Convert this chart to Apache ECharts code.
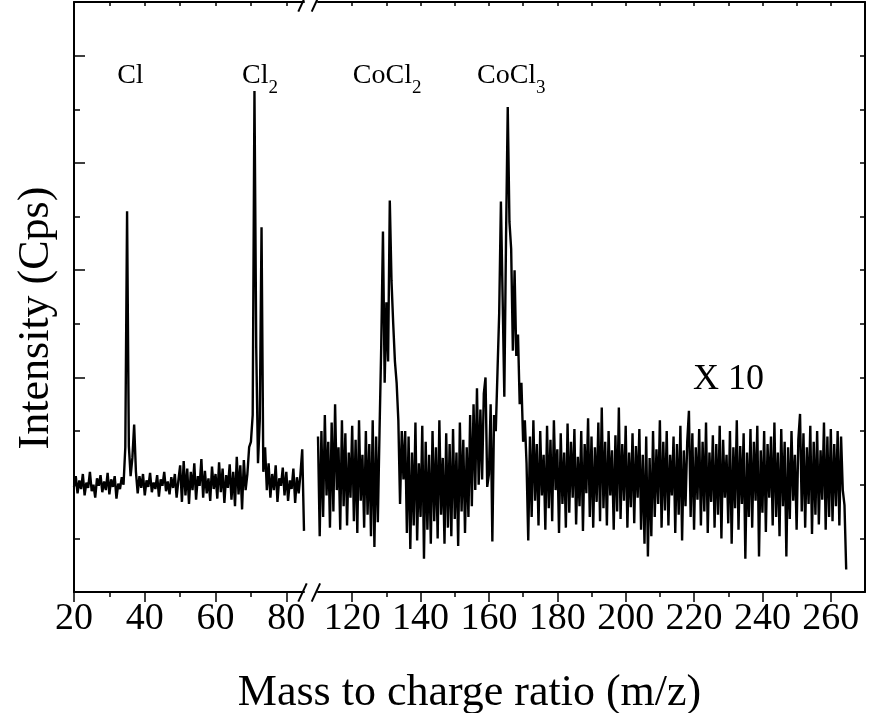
<!DOCTYPE html>
<html>
<head>
<meta charset="utf-8">
<script src="https://cdn.jsdelivr.net/npm/echarts@6/dist/echarts.min.js"></script>
<style>
html,body{margin:0;padding:0;background:#fff;}
#chart{width:869px;height:713px;}
</style>
</head>
<body>
<div id="chart"></div>
<script>
// ---------------- data ----------------
const sampleStep = 0.5;             // m/z sampling interval of the traces
const leftStartMz = 20;             // first m/z of the left (unscaled) segment
const leftIntensity = [
  98, 108, 92, 104, 96, 110, 90, 102, 97, 112,
  94, 100, 88, 106, 99, 109, 93, 103, 95, 111,
  91, 105, 98, 108, 87, 101, 96, 107, 100, 135,
  355, 136, 108, 125, 156, 112, 92, 108, 97, 110,
  90, 104, 98, 111, 93, 102, 96, 109, 89, 105,
  99, 112, 94, 103, 91, 107, 97, 110, 88, 104,
  118, 84, 122, 90, 115, 82, 112, 95, 120, 86,
  108, 99, 124, 88, 113, 92, 106, 85, 117, 96,
  110, 87, 121, 93, 115, 83, 109, 97, 119, 86,
  112, 80, 126, 91, 118, 77, 123, 95, 110, 135,
  140, 165, 467, 228, 120, 160, 340, 112, 135, 95,
  120, 88, 110, 95, 118, 84, 106, 99, 116, 90,
  112, 85, 104, 96, 115, 83, 107, 92, 110, 133,
  57
];
const rightStartMz = 110;           // first m/z of the right (X 10) segment
const rightIntensity = [
  145, 52, 150, 70, 165, 90, 140, 60, 158, 75,
  175, 95, 135, 58, 160, 80, 148, 62, 130, 88,
  155, 66, 142, 55, 160, 85, 128, 60, 150, 72,
  138, 52, 160, 42, 145, 65, 150, 230, 336, 195,
  270, 215, 365, 290, 250, 215, 195, 160, 82, 150,
  105, 150, 55, 145, 40, 130, 62, 158, 48, 120,
  70, 155, 31, 140, 58, 128, 45, 150, 66, 135,
  50, 160, 72, 125, 45, 148, 60, 138, 52, 152,
  68, 130, 43, 158, 75, 142, 55, 135, 70, 165,
  80, 175, 95, 190, 100, 170, 105, 185, 200, 98,
  110, 175, 47, 165, 150, 205, 260, 364, 275, 182,
  330, 452, 345, 320, 225, 300, 220, 240, 175, 195,
  140, 160, 120, 48, 145, 70, 160, 85, 138, 62,
  150, 90, 128, 58, 155, 78, 142, 66, 160, 95,
  133, 55, 148, 82, 130, 60, 157, 74, 140, 88,
  152, 63, 126, 80, 150, 57, 138, 92, 162, 70,
  145, 60, 135, 84, 158, 66, 172, 78, 140, 62,
  150, 90, 132, 58, 146, 75, 172, 68, 138, 85,
  155, 60, 130, 79, 148, 64, 136, 88, 152, 58,
  128, 45, 145, 33, 125, 52, 150, 70, 133, 82,
  160, 60, 140, 76, 150, 62, 128, 90, 145, 55,
  138, 72, 155, 48, 132, 80, 140, 169, 70, 148,
  58, 135, 86, 152, 62, 140, 75, 158, 55, 130,
  84, 146, 60, 138, 72, 155, 50, 142, 88, 128,
  64, 150, 45, 135, 78, 160, 58, 136, 82, 148,
  31, 130, 70, 152, 60, 140, 85, 155, 33, 132,
  74, 150, 56, 138, 88, 145, 62, 158, 70, 130,
  52, 152, 80, 140, 33, 135, 68, 150, 85, 128,
  58, 142, 166, 75, 148, 60, 135, 82, 155, 54,
  140, 72, 150, 63, 132, 86, 158, 58, 145, 70,
  152, 66, 138, 80, 150, 62, 145, 95, 81, 21
];

// axis ranges and tick labels
const leftRange = [20, 85];
const rightRange = [110, 270];
const yRange = [0, 550];
const leftMajorTicks = [20, 40, 60, 80];
const leftMinorTicks = [30, 50, 70];
const rightMajorTicks = [120, 140, 160, 180, 200, 220, 240, 260];
const rightMinorTicks = [130, 150, 170, 190, 210, 230, 250];
const yMajorTicks = [0, 100, 200, 300, 400, 500];
const yMinorTicks = [50, 150, 250, 350, 450];

// text annotations (data coordinates of the label's left edge / middle)
const peakLabels = [
  {main: 'Cl',   sub: '',  mz: 32.2,  y: 478, seg: 0},
  {main: 'Cl',   sub: '2', mz: 67.5,  y: 478, seg: 0},
  {main: 'CoCl', sub: '2', mz: 120.2, y: 478, seg: 1},
  {main: 'CoCl', sub: '3', mz: 156.5, y: 478, seg: 1}
];
const scaleLabel = {text: 'X 10', mz: 219.7, y: 198};
const xTitle = 'Mass to charge ratio (m/z)';
const yTitle = 'Intensity (Cps)';

// ---------------- layout / style ----------------
const FONT = '"Liberation Serif", "Times New Roman", Times, serif';
const GRIDS = [
  {left: 74, top: 2, width: 230, height: 590},
  {left: 318, top: 2, width: 547, height: 590}
];
const BLACK = '#000';
const TRACE_WIDTH = 2.4;

function toPairs(start, vals) {
  return vals.map((v, i) => [start + i * sampleStep, v]);
}

function bottomMajor(gridIndex, range, ticks) {
  return {
    type: 'value', gridIndex, position: 'bottom', min: range[0], max: range[1],
    axisLine: {show: true, onZero: false, lineStyle: {color: BLACK, width: 2}},
    axisTick: {show: true, inside: false, length: 10, customValues: ticks, lineStyle: {color: BLACK, width: 1.5}},
    axisLabel: {show: true, customValues: ticks, color: BLACK, fontFamily: FONT, fontSize: 38, margin: 8},
    splitLine: {show: false}
  };
}
function bottomMinor(gridIndex, range, ticks) {
  return {
    type: 'value', gridIndex, position: 'bottom', min: range[0], max: range[1],
    axisLine: {show: false, onZero: false},
    axisTick: {show: true, inside: false, length: 5, customValues: ticks, lineStyle: {color: BLACK, width: 1.5}},
    axisLabel: {show: false},
    splitLine: {show: false}
  };
}
function topAxis(gridIndex, range, ticks) {
  return {
    type: 'value', gridIndex, position: 'top', min: range[0], max: range[1],
    axisLine: {show: true, onZero: false, lineStyle: {color: BLACK, width: 2}},
    axisTick: {show: true, inside: true, length: 4, customValues: ticks, lineStyle: {color: BLACK, width: 1.5}},
    axisLabel: {show: false},
    splitLine: {show: false}
  };
}

const chart = echarts.init(document.getElementById('chart'), null, {renderer: 'canvas'});

const option = {
  animation: false,
  backgroundColor: '#fff',
  grid: GRIDS.map(g => Object.assign({containLabel: false}, g)),
  xAxis: [
    bottomMajor(0, leftRange, leftMajorTicks),
    bottomMinor(0, leftRange, leftMinorTicks),
    topAxis(0, leftRange, leftMajorTicks.concat(leftMinorTicks)),
    bottomMajor(1, rightRange, rightMajorTicks),
    bottomMinor(1, rightRange, rightMinorTicks),
    topAxis(1, rightRange, rightMajorTicks.concat(rightMinorTicks))
  ],
  yAxis: [
    {
      type: 'value', gridIndex: 0, position: 'left', min: yRange[0], max: yRange[1],
      axisLine: {show: true, onZero: false, lineStyle: {color: BLACK, width: 2}},
      axisTick: {show: true, inside: true, length: 11, customValues: yMajorTicks, lineStyle: {color: BLACK, width: 1.5}},
      axisLabel: {show: false},
      splitLine: {show: false},
      name: yTitle, nameLocation: 'middle', nameGap: 16,
      nameTextStyle: {color: BLACK, fontFamily: FONT, fontSize: 44, padding: [0, 42, 0, 0]}
    },
    {
      type: 'value', gridIndex: 0, position: 'left', min: yRange[0], max: yRange[1],
      axisLine: {show: false, onZero: false},
      axisTick: {show: true, inside: true, length: 6, customValues: yMinorTicks, lineStyle: {color: BLACK, width: 1.5}},
      axisLabel: {show: false},
      splitLine: {show: false}
    },
    {
      type: 'value', gridIndex: 1, position: 'right', min: yRange[0], max: yRange[1],
      axisLine: {show: true, onZero: false, lineStyle: {color: BLACK, width: 2}},
      axisTick: {show: true, inside: true, length: 5, customValues: yMajorTicks.slice(1).concat(yMinorTicks), lineStyle: {color: BLACK, width: 1.5}},
      axisLabel: {show: false},
      splitLine: {show: false}
    }
  ],
  series: [
    {
      type: 'line', xAxisIndex: 0, yAxisIndex: 0,
      data: toPairs(leftStartMz, leftIntensity),
      showSymbol: false, symbol: 'none', sampling: null,
      lineStyle: {color: BLACK, width: TRACE_WIDTH, join: 'bevel'}, silent: true
    },
    {
      type: 'line', xAxisIndex: 3, yAxisIndex: 2,
      data: toPairs(rightStartMz, rightIntensity),
      showSymbol: false, symbol: 'none', sampling: null,
      lineStyle: {color: BLACK, width: TRACE_WIDTH, join: 'bevel'}, silent: true
    }
  ]
};
chart.setOption(option);

// ---------------- annotations & axis-break marks ----------------
function px(seg, mz, y) {
  return chart.convertToPixel(seg === 0 ? {xAxisIndex: 0, yAxisIndex: 0} : {xAxisIndex: 3, yAxisIndex: 2}, [mz, y]);
}
const graphics = [];
peakLabels.forEach(l => {
  const p = px(l.seg, l.mz, l.y);
  graphics.push({
    type: 'text', x: p[0], y: p[1], silent: true,
    style: {
      text: '{a|' + l.main + '}' + (l.sub ? '{b|' + l.sub + '}' : ''),
      align: 'left', verticalAlign: 'middle',
      rich: {
        a: {fontFamily: FONT, fontSize: 28, fill: BLACK, color: BLACK, verticalAlign: 'bottom', padding: [0, 0, 8, 0]},
        b: {fontFamily: FONT, fontSize: 19, fill: BLACK, color: BLACK, verticalAlign: 'bottom'}
      }
    }
  });
});
{
  const p = px(1, scaleLabel.mz, scaleLabel.y);
  graphics.push({
    type: 'text', x: p[0], y: p[1], silent: true,
    style: {text: scaleLabel.text, fontFamily: FONT, fontSize: 36, fill: BLACK, align: 'left', verticalAlign: 'middle'}
  });
}
const plotBottom = GRIDS[0].top + GRIDS[0].height;
const plotTop = GRIDS[0].top;
const breakX = GRIDS[0].left + GRIDS[0].width;   // right end of left segment
graphics.push({
  type: 'text', silent: true,
  x: (GRIDS[0].left + GRIDS[1].left + GRIDS[1].width) / 2, y: plotBottom + 101,
  style: {text: xTitle, fontFamily: FONT, fontSize: 44, fill: BLACK, align: 'center', verticalAlign: 'middle'}
});
// "//" break marks on bottom and top axes
[0, 13.4].forEach(dx => {
  graphics.push({
    type: 'line', silent: true,
    shape: {x1: breakX - 5.7 + dx, y1: plotBottom + 9.7, x2: breakX + 2.7 + dx, y2: plotBottom - 8.7},
    style: {stroke: BLACK, lineWidth: 2}
  });
  graphics.push({
    type: 'line', silent: true,
    shape: {x1: breakX - 5.7 + dx, y1: plotTop + 9.7, x2: breakX + 2.7 + dx, y2: plotTop - 8.7},
    style: {stroke: BLACK, lineWidth: 2}
  });
});
chart.setOption({graphic: graphics});
</script>
</body>
</html>
